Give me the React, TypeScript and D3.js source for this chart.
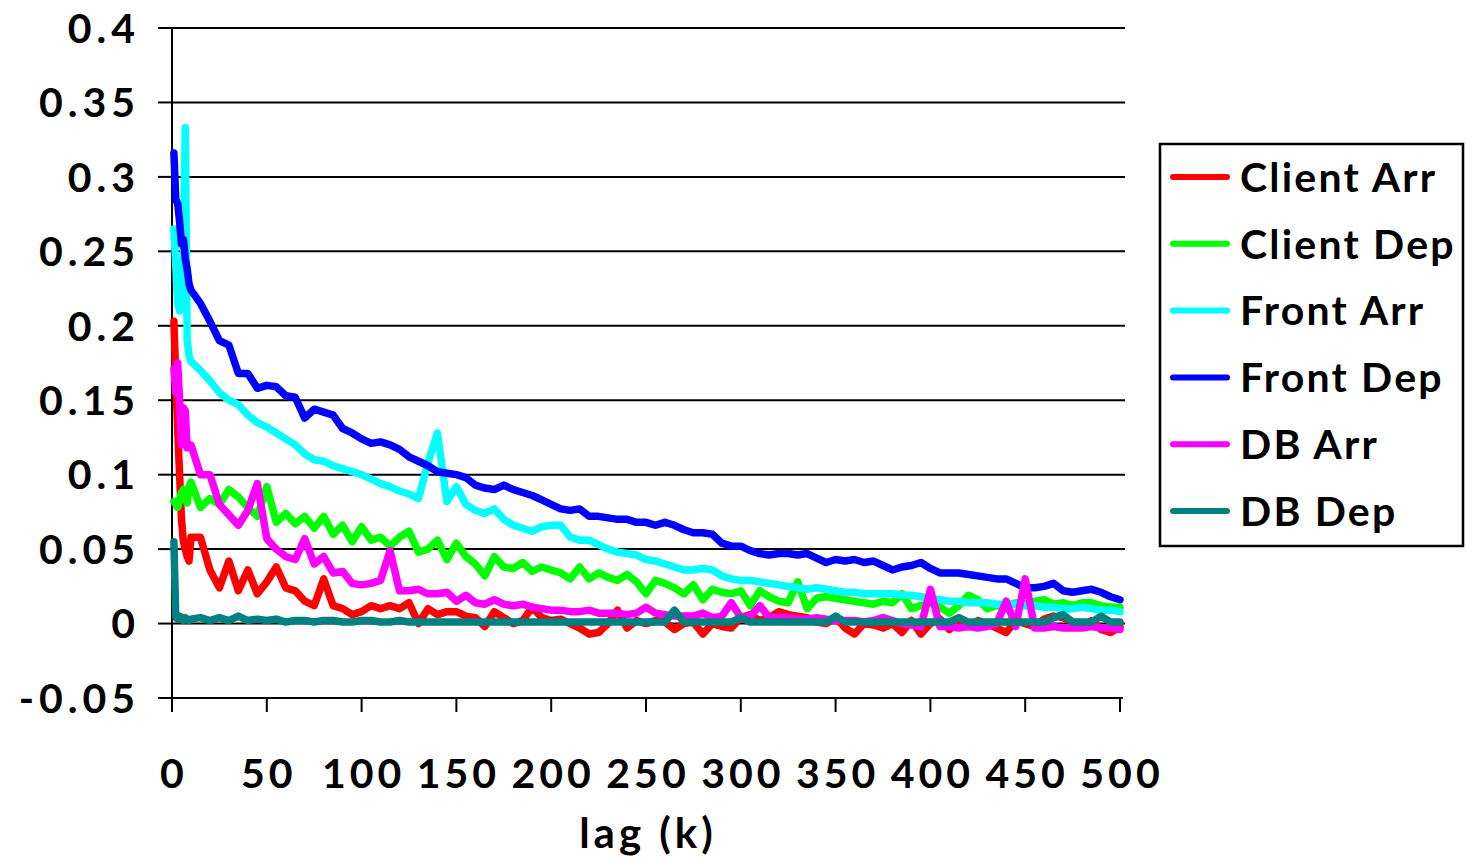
import React, { useEffect } from "react";
import * as d3 from "d3";

const lags = [
  1, 2, 3, 4, 5, 6, 7, 8, 9, 10,
  15, 20, 25, 30, 35, 40, 45, 50, 55, 60,
  65, 70, 75, 80, 85, 90, 95, 100, 105, 110,
  115, 120, 125, 130, 135, 140, 145, 150, 155, 160,
  165, 170, 175, 180, 185, 190, 195, 200, 205, 210,
  215, 220, 225, 230, 235, 240, 245, 250, 255, 260,
  265, 270, 275, 280, 285, 290, 295, 300, 305, 310,
  315, 320, 325, 330, 335, 340, 345, 350, 355, 360,
  365, 370, 375, 380, 385, 390, 395, 400, 405, 410,
  415, 420, 425, 430, 435, 440, 445, 450, 455, 460,
  465, 470, 475, 480, 485, 490, 495, 500,
];

const clientArr = [
  0.203, 0.165, 0.13, 0.1, 0.07, 0.055, 0.05, 0.045, 0.042, 0.058,
  0.058, 0.036, 0.024, 0.042, 0.022, 0.036, 0.02, 0.028, 0.038, 0.024,
  0.022, 0.015, 0.012, 0.03, 0.012, 0.01, 0.006, 0.008, 0.012, 0.01,
  0.012, 0.01, 0.014, 0.0, 0.01, 0.006, 0.008, 0.008, 0.005, 0.004,
  -0.002, 0.008, 0.004, 0.0, 0.002, 0.011, 0.004, 0.002, 0.003, 0.0,
  -0.003, -0.007, -0.006, 0.0, 0.009, -0.003, 0.002, 0.0, 0.002, 0.001,
  -0.004, 0.0, 0.001, -0.007, 0.0, -0.002, -0.003, 0.004, 0.006, 0.002,
  0.004, 0.008, 0.006, 0.005, 0.004, 0.001, 0.0, 0.004, -0.003, -0.007,
  0.0, -0.001, -0.003, 0.0, -0.006, 0.002, -0.007, 0.0, 0.003, -0.004,
  0.001, -0.002, 0.002, 0.0, -0.003, -0.006, 0.002, 0.0, -0.002, 0.003,
  0.005, 0.004, 0.001, -0.002, 0.002, -0.004, -0.006, -0.002,
];

const clientDep = [
  0.082, 0.08, 0.078, 0.083, 0.088, 0.09, 0.084, 0.081, 0.092, 0.095,
  0.078, 0.084, 0.08, 0.09, 0.085, 0.078, 0.072, 0.092, 0.068, 0.074,
  0.067, 0.072, 0.064, 0.072, 0.06, 0.066, 0.055, 0.065, 0.056, 0.058,
  0.052, 0.058, 0.062, 0.048, 0.05, 0.056, 0.043, 0.054, 0.045, 0.04,
  0.032, 0.045, 0.038, 0.037, 0.041, 0.035, 0.038, 0.036, 0.034, 0.03,
  0.038, 0.03, 0.034, 0.031, 0.029, 0.033, 0.028, 0.02, 0.029, 0.027,
  0.024, 0.02, 0.026, 0.016, 0.023, 0.021, 0.02, 0.022, 0.012, 0.022,
  0.018, 0.015, 0.014, 0.028, 0.01, 0.017, 0.018, 0.017, 0.016, 0.015,
  0.014, 0.013, 0.015, 0.014, 0.02, 0.01, 0.012, 0.014, 0.011, 0.007,
  0.012, 0.019, 0.016, 0.01, 0.012, 0.012, 0.014, 0.013, 0.015, 0.016,
  0.013, 0.014, 0.012, 0.014, 0.014, 0.012, 0.011, 0.011,
];

const frontArr = [
  0.265, 0.24, 0.215, 0.21, 0.228, 0.25, 0.333, 0.19, 0.18, 0.176,
  0.17, 0.163, 0.155, 0.15, 0.147, 0.14, 0.135, 0.132, 0.128, 0.124,
  0.12, 0.114, 0.11, 0.109, 0.106, 0.104, 0.102, 0.1, 0.097, 0.094,
  0.092, 0.089, 0.087, 0.084, 0.108, 0.128, 0.082, 0.092, 0.08, 0.076,
  0.074, 0.077, 0.07, 0.066, 0.064, 0.062, 0.065, 0.066, 0.066, 0.058,
  0.056, 0.056, 0.053, 0.05, 0.048, 0.047, 0.046, 0.043, 0.042, 0.04,
  0.038, 0.036, 0.036, 0.037, 0.036, 0.032, 0.03, 0.029, 0.029, 0.028,
  0.027, 0.026, 0.025, 0.024, 0.023, 0.024, 0.023, 0.022, 0.021, 0.021,
  0.02, 0.02, 0.02, 0.02, 0.019, 0.019, 0.018, 0.017, 0.016, 0.015,
  0.015, 0.014, 0.014, 0.014, 0.013, 0.013, 0.013, 0.012, 0.012, 0.011,
  0.011, 0.01, 0.01, 0.011, 0.01, 0.009, 0.009, 0.008,
];

const frontDep = [
  0.316, 0.285, 0.282, 0.27, 0.255, 0.258, 0.245, 0.238, 0.228, 0.224,
  0.215, 0.203, 0.19, 0.187, 0.168, 0.168, 0.158, 0.16, 0.159, 0.153,
  0.152, 0.138, 0.144, 0.142, 0.14, 0.131, 0.128, 0.124, 0.121, 0.122,
  0.12, 0.117, 0.112, 0.109, 0.106, 0.102, 0.101, 0.1, 0.098, 0.093,
  0.091, 0.09, 0.093, 0.09, 0.088, 0.086, 0.083, 0.08, 0.077, 0.076,
  0.077, 0.072, 0.072, 0.071, 0.07, 0.07, 0.068, 0.068, 0.066, 0.068,
  0.066, 0.063, 0.061, 0.061, 0.06, 0.054, 0.052, 0.052, 0.049, 0.047,
  0.046, 0.047, 0.047, 0.046, 0.047, 0.044, 0.041, 0.043, 0.042, 0.043,
  0.041, 0.042, 0.039, 0.036, 0.038, 0.039, 0.041, 0.037, 0.034, 0.034,
  0.034, 0.033, 0.032, 0.031, 0.03, 0.03, 0.027, 0.024, 0.024, 0.025,
  0.027, 0.022, 0.021, 0.022, 0.023, 0.021, 0.018, 0.016,
];

const dbArr = [
  0.171, 0.155, 0.175, 0.15, 0.12, 0.145, 0.143, 0.118, 0.12, 0.12,
  0.1, 0.1, 0.08, 0.073, 0.066, 0.076, 0.094, 0.057, 0.05, 0.045,
  0.043, 0.057, 0.04, 0.045, 0.034, 0.035, 0.027, 0.026, 0.027, 0.029,
  0.049, 0.022, 0.022, 0.023, 0.02, 0.02, 0.021, 0.015, 0.019, 0.014,
  0.013, 0.016, 0.013, 0.012, 0.013, 0.011, 0.01, 0.009, 0.009, 0.008,
  0.008, 0.009, 0.007, 0.007, 0.007, 0.006, 0.007, 0.011, 0.007, 0.006,
  0.005, 0.005, 0.005, 0.007, 0.004, 0.005, 0.014, 0.004, 0.005, 0.012,
  0.004, 0.004, 0.004, 0.003, 0.003, 0.004, 0.003, 0.002, 0.002, 0.002,
  0.001, 0.002, 0.004, 0.002, 0.0, -0.001, -0.002, 0.023, -0.002, -0.002,
  -0.003, -0.002, -0.003, -0.002, 0.0, 0.015, -0.002, 0.03, -0.003, -0.003,
  -0.002, -0.003, -0.003, -0.003, -0.002, -0.003, -0.003, -0.004,
];

const dbDep = [
  0.055, 0.004, 0.003, 0.005, 0.004, 0.002, 0.004, 0.003, 0.002, 0.003,
  0.004, 0.002, 0.004, 0.002, 0.005, 0.002, 0.003, 0.002, 0.003, 0.001,
  0.002, 0.002, 0.001, 0.002, 0.002, 0.001, 0.001, 0.002, 0.002, 0.001,
  0.001, 0.002, 0.001, 0.001, 0.001, 0.001, 0.001, 0.001, 0.001, 0.001,
  0.001, 0.001, 0.001, 0.001, 0.001, 0.001, 0.001, 0.001, 0.001, 0.001,
  0.001, 0.001, 0.001, 0.001, 0.001, 0.001, 0.001, 0.001, 0.001, 0.001,
  0.009, 0.001, 0.001, 0.001, 0.001, 0.001, 0.001, 0.004, 0.001, 0.001,
  0.001, 0.001, 0.001, 0.001, 0.001, 0.001, 0.001, 0.005, 0.001, 0.001,
  0.001, 0.001, 0.001, 0.001, 0.001, 0.001, 0.001, 0.001, 0.001, 0.001,
  0.004, 0.001, 0.001, 0.001, 0.001, 0.001, 0.001, 0.001, 0.001, 0.001,
  0.004, 0.006, 0.001, 0.001, 0.001, 0.005, 0.001, 0.001,
];

const seriesNames = ["Client Arr", "Client Dep", "Front Arr", "Front Dep", "DB Arr", "DB Dep"];
const seriesColors = ["#ff0000", "#00ff00", "#00ffff", "#0000ff", "#ff00ff", "#008080"];
const seriesValues = [clientArr, clientDep, frontArr, frontDep, dbArr, dbDep];

const yTicks = [-0.05, 0, 0.05, 0.1, 0.15, 0.2, 0.25, 0.3, 0.35, 0.4];
const yTickLabels = ["-0.05", "0", "0.05", "0.1", "0.15", "0.2", "0.25", "0.3", "0.35", "0.4"];
const xTicks = [0, 50, 100, 150, 200, 250, 300, 350, 400, 450, 500];
const xTitle = "lag (k)";

const FONT = "Lato, 'DejaVu Sans', sans-serif";

export default function App() {
  useEffect(() => {
    document.body.style.margin = "0";
  }, []);

  const W = 1467;
  const H = 862;
  const x = d3.scaleLinear().domain([0, 500]).range([172, 1120]);
  const y = d3.scaleLinear().domain([-0.05, 0.4]).range([698, 28]);
  const gridRight = 1125;

  const line = d3
    .line<number>()
    .x((_, i) => x(lags[i]))
    .y((d) => y(d))
    .curve(d3.curveLinear);

  const legendX = 1160;
  const legendY = 144;
  const legendW = 303;
  const legendH = 402;
  const legendRow0 = 177;
  const legendStep = 66.8;

  return (
    <svg width={W} height={H} style={{ display: "block" }} fontFamily={FONT}>
      <rect x={0} y={0} width={W} height={H} fill="#ffffff" />
      {yTicks.filter((t) => t > -0.05).map((t) => (
        <line key={"g" + t} x1={x(0)} x2={gridRight} y1={y(t)} y2={y(t)} stroke="#000" strokeWidth={2} />
      ))}
      <line x1={158} x2={gridRight - 2} y1={y(-0.05)} y2={y(-0.05)} stroke="#000" strokeWidth={2} />
      <line x1={x(0)} x2={x(0)} y1={y(0.4)} y2={y(-0.05) + 14} stroke="#000" strokeWidth={2} />
      {yTicks.map((t, i) => (
        <g key={"yt" + t}>
          <line x1={158} x2={x(0)} y1={y(t)} y2={y(t)} stroke="#000" strokeWidth={2} />
          <text x={140} y={y(t)} dy="0.36em" textAnchor="end" fontSize={41} fontWeight={700} letterSpacing={5} fill="#000">
            {yTickLabels[i]}
          </text>
        </g>
      ))}
      {xTicks.map((t) => (
        <g key={"xt" + t}>
          <line x1={x(t)} x2={x(t)} y1={y(-0.05)} y2={y(-0.05) + 14} stroke="#000" strokeWidth={2} />
          <text x={x(t) + 2} y={788} textAnchor="middle" fontSize={41} fontWeight={700} letterSpacing={4} fill="#000">
            {t}
          </text>
        </g>
      ))}
      <text x={(x(0) + x(500)) / 2 + 2} y={848} textAnchor="middle" fontSize={42} fontWeight={700} letterSpacing={4} fill="#000">
        {xTitle}
      </text>
      {seriesValues.map((vals, i) => (
        <path
          key={seriesNames[i]}
          d={line(vals) || ""}
          fill="none"
          stroke={seriesColors[i]}
          strokeWidth={7.5}
          strokeLinejoin="round"
          strokeLinecap="round"
        />
      ))}
      <rect x={legendX} y={legendY} width={legendW} height={legendH} fill="#fff" stroke="#000" strokeWidth={2.5} />
      {seriesNames.map((n, i) => {
        const ly = legendRow0 + i * legendStep;
        return (
          <g key={"lg" + n}>
            <line x1={1173} x2={1227} y1={ly} y2={ly} stroke={seriesColors[i]} strokeWidth={6} strokeLinecap="round" />
            <text x={1240} y={ly} dy="0.36em" fontSize={41} fontWeight={700} letterSpacing={2.2} fill="#000">
              {n}
            </text>
          </g>
        );
      })}
    </svg>
  );
}
